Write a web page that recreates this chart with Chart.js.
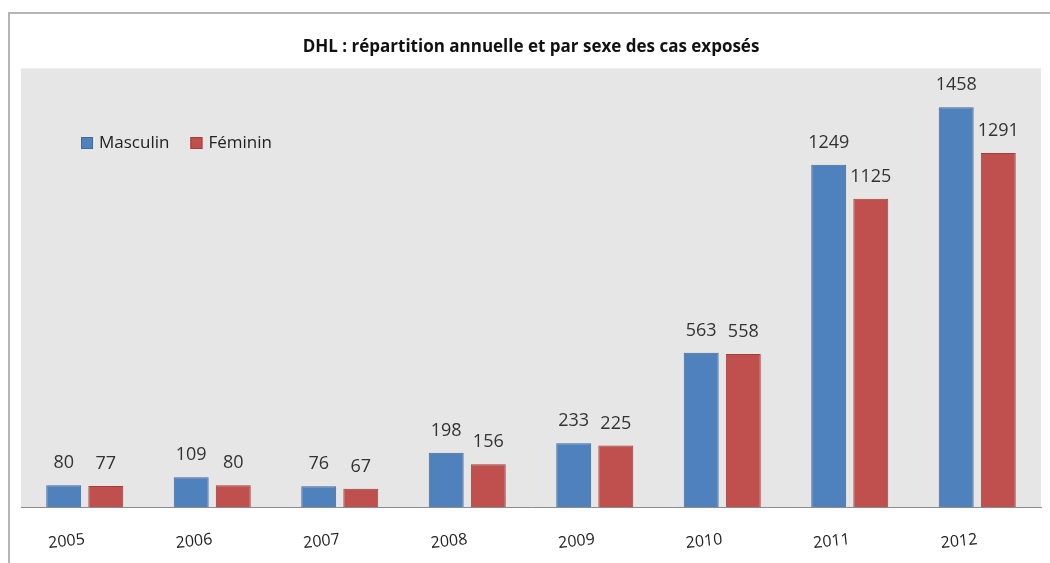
<!DOCTYPE html>
<html>
<head>
<meta charset="utf-8">
<script src="https://cdn.jsdelivr.net/npm/chart.js@4.4.0/dist/chart.umd.min.js"></script>
<style>
    body { margin: 0; background: #fff; overflow: hidden; }
    #wrap { position: relative; width: 1050px; height: 563px; overflow: hidden; }
    #cadre { position: absolute; left: 8px; top: 12px; width: 1060px; height: 600px; border-left: 2px solid #b5b5b5; border-top: 2px solid #b5b5b5; }
    canvas { position: absolute; left: 0; top: 0; }
</style>
</head>
<body>
<div id="wrap">
    <div id="cadre"></div>
    <canvas id="grafico" width="1050" height="587"></canvas>
</div>
<script>
// Données
const annees = ["2005", "2006", "2007", "2008", "2009", "2010", "2011", "2012"];
const masculin = [80, 109, 76, 198, 233, 563, 1249, 1458];
const feminin = [77, 80, 67, 156, 225, 558, 1125, 1291];

const BLEU = "#4f81bd";
const ROUGE = "#c0504d";

// fond gris de la zone de tracé
const fondZone = {
    id: "fondZone",
    beforeDraw(chart) {
        const { ctx, chartArea: a } = chart;
        ctx.save();
        ctx.fillStyle = "#e6e6e6";
        ctx.fillRect(a.left, a.top, a.right - a.left, a.bottom - a.top);
        ctx.restore();
    }
};

// étiquettes de valeurs + légende dans la zone
const etiquettes = {
    id: "etiquettes",
    afterDatasetsDraw(chart) {
        const ctx = chart.ctx;
        ctx.save();
        ctx.font = "18px 'Open Sans'";
        ctx.fillStyle = "#333";
        ctx.textAlign = "center";
        ctx.textBaseline = "middle";
        chart.data.datasets.forEach((ds, i) => {
            chart.getDatasetMeta(i).data.forEach((bar, j) => {
                ctx.fillText(ds.data[j], bar.x, bar.y - 22);
            });
        });

        // légende
        let x = 81;
        const y = 143;
        ctx.font = "17px 'Open Sans'";
        ctx.textAlign = "left";
        chart.data.datasets.forEach(ds => {
            ctx.fillStyle = ds.backgroundColor;
            ctx.fillRect(x, y - 6, 12, 12);
            ctx.strokeStyle = ds.borderColor;
            ctx.lineWidth = 1;
            ctx.strokeRect(x + 0.5, y - 5.5, 11, 11);
            ctx.fillStyle = "#222";
            ctx.fillText(ds.label, x + 18, y);
            x += 18 + ctx.measureText(ds.label).width + 21;
        });
        ctx.restore();
    }
};

const ctx = document.getElementById("grafico").getContext("2d");
new Chart(ctx, {
    type: "bar",
    data: {
        labels: annees,
        datasets: [
            { label: "Masculin", data: masculin, backgroundColor: BLEU, borderColor: "#41699a", borderWidth: 1 },
            { label: "Féminin", data: feminin, backgroundColor: ROUGE, borderColor: "#a03f3c", borderWidth: 1 }
        ]
    },
    options: {
        responsive: false,
        animation: false,
        layout: { padding: { left: 21, right: 9, top: 0, bottom: 11 } },
        datasets: { bar: { categoryPercentage: 0.66, barPercentage: 0.83 } },
        plugins: {
            legend: { display: false },
            tooltip: { enabled: false },
            title: {
                display: true,
                text: "DHL : répartition annuelle et par sexe des cas exposés",
                font: { family: "'Open Sans'", size: 17, weight: "bold", lineHeight: 1.2 },
                color: "#111",
                padding: { top: 37, bottom: 11 }
            }
        },
        scales: {
            x: {
                grid: { display: false, drawTicks: false },
                border: { display: true, color: "#8c8c8c", width: 1 },
                ticks: {
                    color: "#222",
                    font: { family: "'Open Sans'", size: 16 },
                    minRotation: 6,
                    maxRotation: 6,
                    padding: 23
                }
            },
            y: {
                display: false,
                min: 0,
                max: 1600
            }
        }
    },
    plugins: [fondZone, etiquettes]
});
</script>
</body>
</html>
